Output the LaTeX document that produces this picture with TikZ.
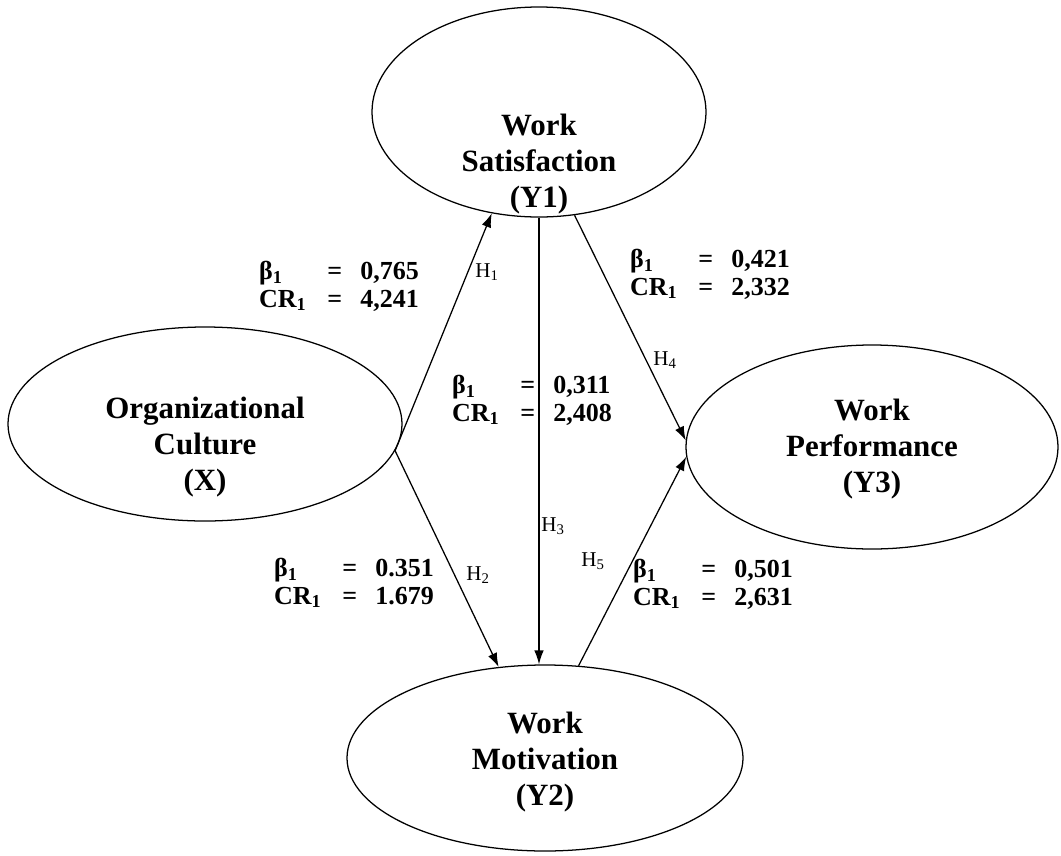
\documentclass[tikz,border=0pt]{standalone}
\usepackage{fontspec}
\setmainfont{Liberation Serif}
\usetikzlibrary{shapes}
\usetikzlibrary{arrows.meta}
\tikzset{latent/.style={ellipse, draw, line width=0.9pt, inner sep=0pt}}
\tikzset{latname/.style={align=center, inner sep=0pt, font=\fontsize{22}{25.6}\selectfont\bfseries}}
\tikzset{path/.style={draw, line width=0.9pt, -{Latex[length=0.35cm,width=0.24cm]}}}
\tikzset{coef/.style={inner sep=0pt, font=\fontsize{18.5}{19.5}\selectfont\bfseries}}
\tikzset{hyp/.style={inner sep=0pt, font=\fontsize{15}{16}\selectfont}}

\begin{document}
\begin{tikzpicture}[x=0.025cm,y=-0.025cm]
    \useasboundingbox (0,0) rectangle (1061,856);
    \foreach \x/\y/\w/\h/\dy/\lab/\tx in {
      205/424/394/194/-0.57/org/Organizational\\Culture\\(X),
      539/112/334/210/-1.3/sat/Work\\Satisfaction\\(Y1),
      872/447/372/204/-0.05/perf/Work\\Performance\\(Y3),
      545/758/396/186/-0.1/mot/Work\\Motivation\\(Y2)%
    } {
      \node[latent, minimum width=\w*0.025cm, minimum height=\h*0.025cm] (\lab) at (\x, \y) {};
      \node[latname] (\lab-t) at ([yshift=\dy cm]\lab.center) {\tx};
    }
    % coefficients
    \node[coef] (c1) at (339,288) {\begin{tabular}{@{}l@{\hspace{0.8em}}c@{\hspace{0.7em}}l@{}}
      β\textsubscript{1} & = & 0,765\\ CR\textsubscript{1} & = & 4,241\end{tabular}};
    \node[coef] (c2) at (354,585) {\begin{tabular}{@{}l@{\hspace{0.8em}}c@{\hspace{0.7em}}l@{}}
      β\textsubscript{1} & = & 0.351\\ CR\textsubscript{1} & = & 1.679\end{tabular}};
    \node[coef] (c3) at (532,402) {\begin{tabular}{@{}l@{\hspace{0.8em}}c@{\hspace{0.7em}}l@{}}
      β\textsubscript{1} & = & 0,311\\ CR\textsubscript{1} & = & 2,408\end{tabular}};
    \node[coef] (c4) at (710,276) {\begin{tabular}{@{}l@{\hspace{0.8em}}c@{\hspace{0.7em}}l@{}}
      β\textsubscript{1} & = & 0,421\\ CR\textsubscript{1} & = & 2,332\end{tabular}};
    \node[coef] (c5) at (713,586) {\begin{tabular}{@{}l@{\hspace{0.8em}}c@{\hspace{0.7em}}l@{}}
      β\textsubscript{1} & = & 0,501\\ CR\textsubscript{1} & = & 2,631\end{tabular}};
    % hypotheses
    \node[hyp] (h1) at (487,272) {H\textsubscript{1}};
    \node[hyp] (h2) at (478,575) {H\textsubscript{2}};
    \node[hyp] (h3) at (553,526) {H\textsubscript{3}};
    \node[hyp] (h4) at (665,360) {H\textsubscript{4}};
    \node[hyp] (h5) at (593,561) {H\textsubscript{5}};
    % paths
    \draw[path] (org.-8) -- (sat.245);
    \draw[path] (org.-8) -- (mot.117);
    \draw[path] (sat.south) -- (sat.south |- mot.north);
    \draw[path] (sat.289) -- (perf.178);
    \draw[path] (mot.70) -- (perf.183);
  \end{tikzpicture}
\end{document}
